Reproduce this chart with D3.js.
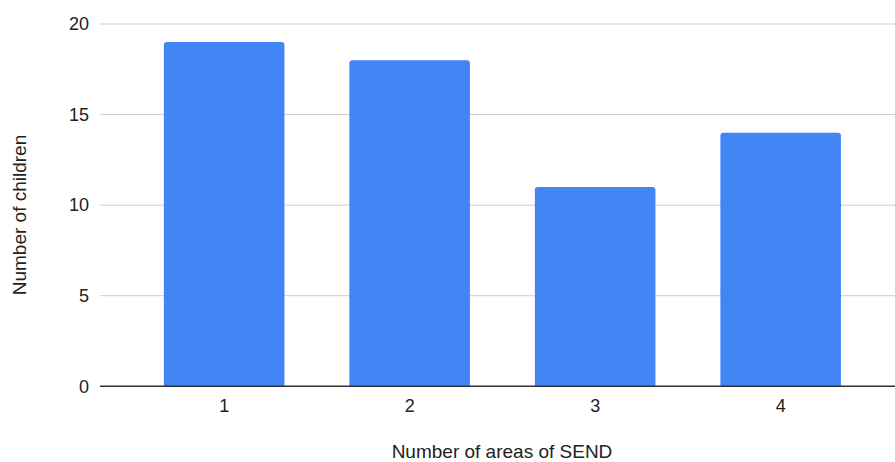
<!DOCTYPE html>
<html><head><meta charset="utf-8">
<script src="https://cdn.jsdelivr.net/npm/d3@7"></script>
<style>body{margin:0;background:#fff}svg{display:block}text{font-family:"Liberation Sans",Arial,sans-serif;fill:#222}</style>
</head><body><svg id="c" width="895" height="462"></svg>
<script>
const categories = ["1","2","3","4"];
const values = [19, 18, 11, 14];
const yTicks = [0, 5, 10, 15, 20];
const xTitle = "Number of areas of SEND";
const yTitle = "Number of children";

(function () {
const svg = d3.select("#c");
const plotL = 100, plotR = 895, plotTop = 24, plotBottom = 386.3;
const x = d3.scaleBand().domain(categories).range([131.4, 873.4]).paddingInner(0.35).paddingOuter(0.175);
const y = d3.scaleLinear().domain([0, 20]).range([plotBottom, plotTop]);

// gridlines
svg.append("g").selectAll("line").data(yTicks.filter(d => d !== 0)).join("line")
  .attr("x1", plotL).attr("x2", plotR)
  .attr("y1", d => y(d)).attr("y2", d => y(d))
  .attr("stroke", "#cccccc").attr("stroke-width", 1);

// y tick labels
svg.append("g").selectAll("text").data(yTicks).join("text")
  .attr("x", 89).attr("y", d => y(d)).attr("dy", "0.35em")
  .attr("text-anchor", "end").attr("font-size", 18).text(d => d);

// bars with rounded top corners
const r = 3;
svg.append("g").selectAll("path").data(values).join("path")
  .attr("fill", "#4285f4")
  .attr("d", (d, i) => {
    const x0 = x(categories[i]), w = x.bandwidth(), y0 = y(d), yb = y(0);
    return `M${x0},${yb}V${y0 + r}Q${x0},${y0} ${x0 + r},${y0}H${x0 + w - r}Q${x0 + w},${y0} ${x0 + w},${y0 + r}V${yb}Z`;
  });

// baseline
svg.append("line").attr("x1", plotL).attr("x2", plotR)
  .attr("y1", y(0)).attr("y2", y(0)).attr("stroke", "#333").attr("stroke-width", 1.5);

// x tick labels
svg.append("g").selectAll("text").data(categories).join("text")
  .attr("x", d => x(d) + x.bandwidth() / 2).attr("y", 412)
  .attr("text-anchor", "middle").attr("font-size", 18).text(d => d);

// titles
svg.append("text").attr("x", 502).attr("y", 458).attr("text-anchor", "middle")
  .attr("font-size", 19).text(xTitle);
svg.append("text").attr("transform", "translate(26,215) rotate(-90)").attr("text-anchor", "middle")
  .attr("font-size", 19).text(yTitle);
})();
</script></body></html>
